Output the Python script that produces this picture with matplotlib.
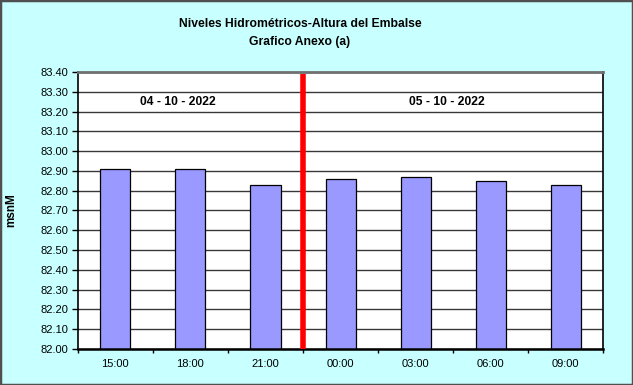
import numpy as np
import matplotlib.pyplot as plt
from matplotlib.patches import Rectangle

plt.rcParams['font.family'] = ['Liberation Sans', 'DejaVu Sans']

horas = ['15:00', '18:00', '21:00', '00:00', '03:00', '06:00', '09:00']
niveles = [82.91, 82.91, 82.83, 82.86, 82.87, 82.85, 82.83]
fechas = ['04 - 10 - 2022', '05 - 10 - 2022']

fondo = '#C8FFFF'
fig = plt.figure(figsize=(6.33, 3.85), dpi=100, facecolor=fondo)
fig.patches.append(Rectangle((0, 0), 1, 1, transform=fig.transFigure, fill=False,
                             edgecolor='#505050', linewidth=2.5))
ax = fig.add_axes([0.123, 0.0935, 0.830, 0.7195])

x = np.arange(len(horas))
ax.set_axisbelow(True)
ax.bar(x, niveles, width=0.4, color='#9999FF', edgecolor='black', linewidth=0.9)

ax.set_ylim(82.0, 83.4)
ax.set_xlim(-0.5, len(horas) - 0.5)
ax.set_yticks(np.arange(82.0, 83.41, 0.1))
ax.set_yticklabels(['%.2f' % v for v in np.arange(82.0, 83.41, 0.1)], fontsize=8)
ax.yaxis.grid(True, color='#383838', linewidth=1)

ax.set_xticks(x)
ax.set_xticklabels(horas, fontsize=8)
ax.tick_params(axis='x', length=0, pad=7)
ax.set_xticks(np.arange(-0.5, len(horas)), minor=True)
ax.tick_params(axis='x', which='minor', length=3, width=1)
ax.tick_params(axis='y', length=4, width=1, pad=3)

for s in ['left', 'right']:
    ax.spines[s].set_linewidth(1.2)
ax.spines['bottom'].set_linewidth(1.8)
ax.spines['top'].set_color('#707070')
ax.spines['top'].set_linewidth(2)

# separacion entre dias
ax.plot([2.5, 2.5], [82.0, 83.39], color='red', linewidth=4, solid_capstyle='butt', zorder=5)

ax.text(0.83, 83.25, fechas[0], ha='center', va='center', fontsize=8.7, fontweight='bold')
ax.text(4.41, 83.25, fechas[1], ha='center', va='center', fontsize=8.7, fontweight='bold')

fig.text(0.018, 0.455, 'msnM', rotation=90, ha='center', va='center',
         fontsize=8.5, fontweight='bold')

fig.text(0.474, 0.938, 'Niveles Hidrométricos-Altura del Embalse', ha='center', va='center',
         fontsize=8.7, fontweight='bold')
fig.text(0.474, 0.892, 'Grafico Anexo (a)', ha='center', va='center',
         fontsize=8.7, fontweight='bold')

fig.savefig('out.png', dpi=100, facecolor=fondo)
